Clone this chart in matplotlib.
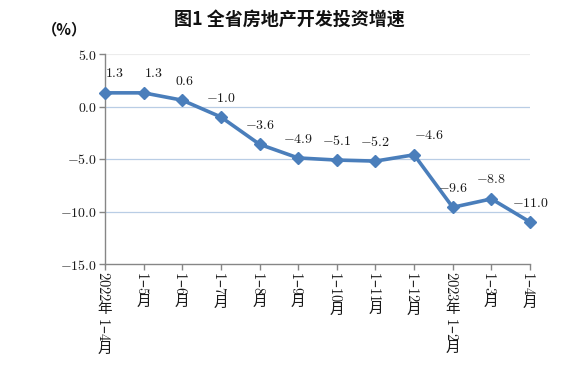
import matplotlib
matplotlib.use('Agg')
import matplotlib.pyplot as plt

plt.rcParams['mathtext.fontset'] = 'cm'
plt.rcParams['font.family'] = ['Noto Sans CJK SC', 'DejaVu Sans']

# ---- data ----
categories = ['2022年1-4月', '1-5月', '1-6月', '1-7月', '1-8月', '1-9月',
              '1-10月', '1-11月', '1-12月', '2023年1-2月', '1-3月', '1-4月']
values = [1.3, 1.3, 0.6, -1.0, -3.6, -4.9, -5.1, -5.2, -4.6, -9.6, -8.8, -11.0]
yticks = [5.0, 0.0, -5.0, -10.0, -15.0]
title = '图1 全省房地产开发投资增速'
unit = '（%）'

# label x-offsets (points), style only
label_dx = [7, 7, 2, 0, 0, 0, 0, 0, 11, 0, 0, 0]

line_color = '#4a7ebb'
grid_color = '#b9cde5'
axis_color = '#868686'
text_color = '#1a1a1a'
fs = 10
xfs = 10.5
DPI = 100

fig = plt.figure(figsize=(5.79, 3.74), dpi=DPI)
ax = fig.add_axes([105 / 579, 1 - 264 / 374, (530 - 105) / 579, (264 - 54) / 374])

x = list(range(len(values)))
ax.set_xlim(0, len(values) - 1)
ax.set_ylim(-15, 5)

for yv in yticks:
    if yv == 5.0:
        ax.axhline(yv, color='#ececec', lw=0.8, zorder=1)
    elif yv != -15.0:
        ax.axhline(yv, color=grid_color, lw=0.9, zorder=1)

ax.plot(x, values, color=line_color, lw=2.6, marker='D', ms=6.5,
        markerfacecolor=line_color, markeredgecolor=line_color,
        zorder=3, clip_on=False)

for s in ['top', 'right']:
    ax.spines[s].set_visible(False)
for s in ['left', 'bottom']:
    ax.spines[s].set_color(axis_color)
    ax.spines[s].set_linewidth(1.0)

ax.set_yticks(yticks)
ax.set_yticklabels([f'${v:.1f}$' for v in yticks], fontsize=fs, color=text_color)
ax.set_xticks(x)
ax.set_xticklabels([])
ax.tick_params(axis='both', direction='out', length=4, width=1, color=axis_color)
ax.tick_params(axis='y', pad=2)

# data labels
for i, v in enumerate(values):
    ax.annotate(f'${v:.1f}$', xy=(i, v), xytext=(label_dx[i], 14),
                textcoords='offset points', ha='center', va='center',
                fontsize=fs, color=text_color, zorder=4)

# vertical x tick labels: digits rotated, CJK characters upright
def is_cjk(c):
    return ord(c) > 0x2E80

def runs(s):
    out = []
    cur = ''
    for c in s:
        if is_cjk(c):
            if cur:
                out.append(('r', cur))
                cur = ''
            out.append(('c', c))
        else:
            cur += c
    if cur:
        out.append(('r', cur))
    return out

def to_math(seg):
    parts = seg.split('-')
    return '–'.join(f'${p}$' for p in parts if p != '') if '-' in seg else f'${seg}$'

renderer = fig.canvas.get_renderer()
trans = ax.get_xaxis_transform()
for i, lab in enumerate(categories):
    off = 5.0
    for kind, seg in runs(lab):
        if kind == 'r':
            m = to_math(seg)
            t = ax.annotate(m, xy=(i, 0), xycoords=trans, xytext=(-1, -off),
                            textcoords='offset points', rotation=270,
                            ha='center', va='top', fontsize=xfs, color=text_color,
                            annotation_clip=False)
            h = t.get_window_extent(renderer).height * 72 / DPI
            off += h + 0.5
        else:
            ax.annotate(seg, xy=(i, 0), xycoords=trans, xytext=(0, -off),
                        textcoords='offset points', rotation=0,
                        ha='center', va='top', fontsize=xfs, color=text_color,
                        annotation_clip=False)
            off += xfs * 1.0

fig.text(0.5, 0.948, title, ha='center', va='center', fontsize=13,
         fontweight='bold', color='#111111')
fig.text(64 / 579, 1 - 29 / 374, unit, ha='center', va='center', fontsize=11,
         fontweight='bold', color='#111111')

fig.savefig('out.png', dpi=DPI)
